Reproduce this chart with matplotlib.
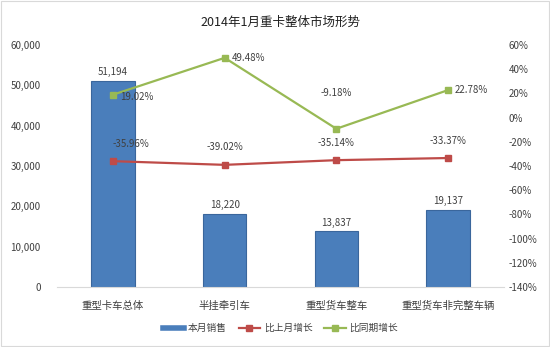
import matplotlib.pyplot as plt
from matplotlib.ticker import FuncFormatter, MultipleLocator

plt.rcParams['font.family'] = ['Noto Sans CJK SC', 'DejaVu Sans']

categories = ['重型卡车总体', '半挂牵引车', '重型货车整车', '重型货车非完整车辆']
sales = [51194, 18220, 13837, 19137]
mom_growth = [-35.96, -39.02, -35.14, -33.37]
yoy_growth = [19.02, 49.48, -9.18, 22.78]

blue = '#4a7ebb'
red = '#be4b48'
green = '#98b954'
text_c = '#404040'

fig = plt.figure(figsize=(5.5, 3.47), dpi=100)
fig.patches.append(plt.Rectangle((0.002, 0.003), 0.996, 0.994, transform=fig.transFigure,
                                 fill=False, edgecolor='#d9d9d9', linewidth=0.8))
ax = fig.add_axes([0.104, 0.173, 0.812, 0.697])
ax2 = ax.twinx()

x = list(range(len(categories)))
ax.bar(x, sales, width=0.39, color=blue, edgecolor='#3a669c', linewidth=0.8, zorder=2)
for xi, v in zip(x, sales):
    ax.text(xi, v + 900, f'{v:,}', ha='center', va='bottom', fontsize=7, color=text_c)

ax.set_xlim(-0.5, 3.5)
ax.set_ylim(0, 60000)
ax.yaxis.set_major_locator(MultipleLocator(10000))
ax.yaxis.set_major_formatter(FuncFormatter(lambda v, p: f'{int(v):,}'))
ax.set_xticks(x)
ax.set_xticklabels(categories)

ax2.plot(x, mom_growth, color=red, linewidth=1.6, marker='s', markersize=4.5, zorder=3,
         label='比上月增长')
ax2.plot(x, yoy_growth, color=green, linewidth=1.6, marker='s', markersize=4.5, zorder=3,
         label='比同期增长')
ax2.set_ylim(-140, 60)
ax2.yaxis.set_major_locator(MultipleLocator(20))
ax2.yaxis.set_major_formatter(FuncFormatter(lambda v, p: f'{int(v)}%'))

for xi, v in zip(x, mom_growth):
    ax2.annotate(f'{v:.2f}%', (xi, v), xytext=(0, 9), textcoords='offset points',
                 ha='left' if xi == 0 else 'center', va='bottom', fontsize=7, color=text_c)
for xi, v in zip(x, yoy_growth):
    if v < 0:
        ax2.annotate(f'{v:.2f}%', (xi, v), xytext=(0, 22), textcoords='offset points',
                     ha='center', va='bottom', fontsize=7, color=text_c)
    else:
        ax2.annotate(f'{v:.2f}%', (xi, v), xytext=(5, 0 if xi else -2), textcoords='offset points',
                     ha='left', va='center', fontsize=7, color=text_c)

for a in (ax, ax2):
    for s in ('top', 'left', 'right'):
        a.spines[s].set_visible(False)
    a.tick_params(length=0, labelsize=7, colors=text_c)
ax.spines['bottom'].set_color('#d9d9d9')
ax2.spines['bottom'].set_visible(False)
ax.tick_params(axis='x', pad=10, labelsize=7.5)
ax.tick_params(axis='y', pad=12)

ax.set_title('2014年1月重卡整体市场形势', fontsize=9, color='#202020', pad=14)

from matplotlib.patches import Patch
from matplotlib.lines import Line2D
handles = [Line2D([0], [0], color=blue, linewidth=4),
           Line2D([0], [0], color=red, linewidth=1.6, marker='s', markersize=4),
           Line2D([0], [0], color=green, linewidth=1.6, marker='s', markersize=4)]
fig.legend(handles, ['本月销售', '比上月增长', '比同期增长'], loc='center', ncol=3,
           bbox_to_anchor=(0.51, 0.055), frameon=False, fontsize=7, handlelength=2.2,
           columnspacing=1.2, handletextpad=0.4, labelcolor=text_c)

fig.savefig('out.png', dpi=100)
